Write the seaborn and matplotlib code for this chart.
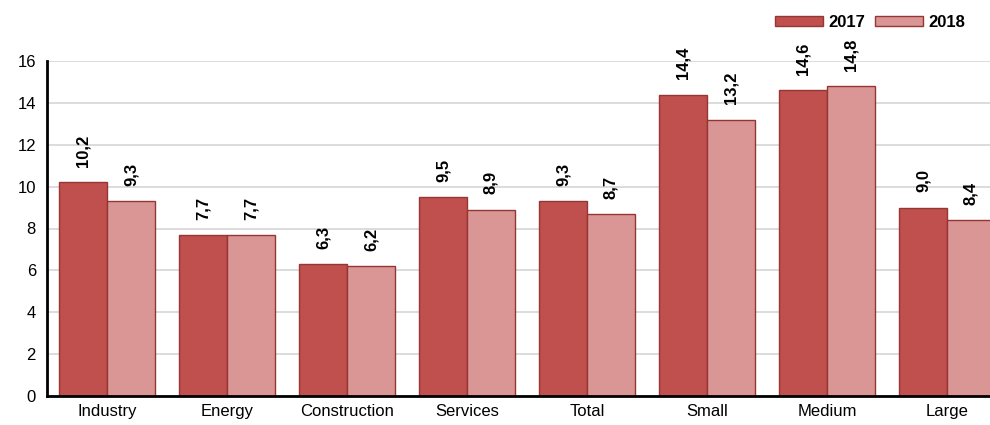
import matplotlib
matplotlib.use("Agg")
import matplotlib.pyplot as plt
import seaborn as sns
import pandas as pd
from matplotlib.ticker import FixedLocator

categories = ["Industry", "Energy", "Construction", "Services", "Total", "Small", "Medium", "Large"]
values_2017 = [10.2, 7.7, 6.3, 9.5, 9.3, 14.4, 14.6, 9.0]
values_2018 = [9.3, 7.7, 6.2, 8.9, 8.7, 13.2, 14.8, 8.4]
labels_2017 = ["10,2", "7,7", "6,3", "9,5", "9,3", "14,4", "14,6", "9,0"]
labels_2018 = ["9,3", "7,7", "6,2", "8,9", "8,7", "13,2", "14,8", "8,4"]
series = ["2017", "2018"]
yticks = [0, 2, 4, 6, 8, 10, 12, 14, 16]

df = pd.DataFrame({
    "category": categories * 2,
    "value": values_2017 + values_2018,
    "year": ["2017"] * len(categories) + ["2018"] * len(categories),
})

sns.set_style("white")
plt.rcParams["font.family"] = ["Liberation Sans", "DejaVu Sans"]
plt.rcParams["text.color"] = "black"
plt.rcParams["xtick.color"] = "black"
plt.rcParams["ytick.color"] = "black"

fig = plt.figure(figsize=(9.9, 4.25), dpi=100)
ax = fig.add_axes([47 / 990, 29 / 425, 960 / 990, 335 / 425])

palette = {"2017": "#C0504D", "2018": "#D99694"}
sns.barplot(data=df, x="category", y="value", hue="year", palette=palette,
            hue_order=series, order=categories, ax=ax, width=0.8,
            edgecolor="#963634", linewidth=1.0, saturation=1)

for cont, labs in zip(ax.containers, [labels_2017, labels_2018]):
    ax.bar_label(cont, labels=labs, rotation=90, padding=11, fontsize=12,
                 fontweight="bold", color="black")

ax.set_ylim(0, 16)
ax.set_xlim(-0.5, len(categories) - 0.5)
ax.set_yticks(yticks)
ax.yaxis.grid(True, color="#D6D6D6", linewidth=1.2)
ax.set_axisbelow(True)
ax.set_xlabel("")
ax.set_ylabel("")
for s in ["top", "right"]:
    ax.spines[s].set_visible(False)
ax.spines["left"].set_linewidth(2)
ax.spines["bottom"].set_linewidth(2)
ax.spines["left"].set_color("black")
ax.spines["bottom"].set_color("black")
ax.tick_params(axis="y", labelsize=12, length=4, direction="in", width=1, pad=8)
ax.tick_params(axis="x", labelsize=12, length=0, pad=6)
ax.xaxis.set_minor_locator(FixedLocator([i + 0.5 for i in range(len(categories) - 1)]))
ax.tick_params(axis="x", which="minor", length=5, direction="in", width=1, color="black")

handles, labels = ax.get_legend_handles_labels()
if ax.get_legend() is not None:
    ax.get_legend().remove()
fig.legend(handles, labels, loc="upper right", bbox_to_anchor=(0.99, 1.0), ncol=2,
           frameon=False, prop={"weight": "bold", "size": 12},
           handlelength=2.9, handleheight=0.6, columnspacing=0.6, handletextpad=0.3)

fig.savefig("out.png", dpi=100)
